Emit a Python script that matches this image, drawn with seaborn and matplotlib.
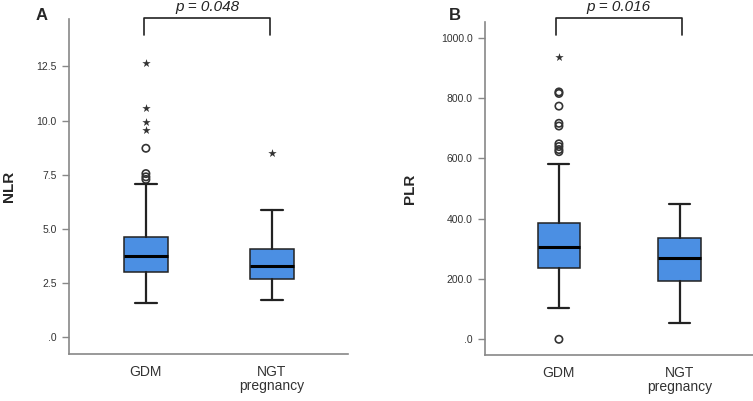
import numpy as np
import matplotlib
matplotlib.use("Agg")
import matplotlib.pyplot as plt
import seaborn as sns

# Group labels
groups = ["GDM", "NGT\npregnancy"]

# NLR box stats: whisker low, Q1, median, Q3, whisker high
nlr_low = [1.59, 1.71]
nlr_q1 = [3.01, 2.67]
nlr_med = [3.76, 3.29]
nlr_q3 = [4.63, 4.06]
nlr_high = [7.08, 5.88]
nlr_out_gdm = [7.28, 7.40, 7.55, 8.72]
nlr_ext_gdm = [9.58, 9.94, 10.57, 12.65]
nlr_out_ngt = []
nlr_ext_ngt = [8.50]

# PLR box stats
plr_low = [103, 55]
plr_q1 = [237, 194]
plr_med = [305, 270]
plr_q3 = [387, 335]
plr_high = [581, 449]
plr_out_gdm = [0, 622, 629, 639, 648, 707, 716, 773, 815, 820]
plr_ext_gdm = [935]
plr_out_ngt = []
plr_ext_ngt = []

sns.set_style("ticks")
plt.rcParams["font.family"] = ["Liberation Sans", "DejaVu Sans"]

box_color = "#4b8fe3"
fig = plt.figure(figsize=(7.53, 4.01), dpi=100)
ax1 = fig.add_axes([0.0916, 0.117, 0.371, 0.836])
ax2 = fig.add_axes([0.6445, 0.114, 0.355, 0.832])


def draw_panel(ax, low, q1, med, q3, high, outs, exts, ylim, ticks, ylabel):
    stats = []
    for i in range(len(groups)):
        stats.append(dict(whislo=low[i], q1=q1[i], med=med[i], q3=q3[i], whishi=high[i], fliers=[]))
    ax.bxp(stats, positions=range(len(groups)), widths=0.35, patch_artist=True,
           showfliers=False,
           boxprops=dict(facecolor=box_color, edgecolor="#222222", linewidth=1.1),
           medianprops=dict(color="black", linewidth=2.2),
           whiskerprops=dict(color="#222222", linewidth=1.6),
           capprops=dict(color="#222222", linewidth=1.6),
           capwidths=0.175)
    for i, (o, e) in enumerate(zip(outs, exts)):
        if len(o):
            sns.scatterplot(x=[i] * len(o), y=o, ax=ax, marker="o", s=28,
                            facecolor="none", edgecolor="#333333", linewidth=1.2, legend=False)
        if len(e):
            sns.scatterplot(x=[i] * len(e), y=e, ax=ax, marker="*", s=40,
                            color="#333333", linewidth=0, legend=False)
    ax.set_xlim(-0.61, 1.605)
    ax.set_ylim(*ylim)
    ax.set_yticks(ticks)
    ax.set_yticklabels([".0" if t == 0 else f"{t:.1f}" for t in ticks], fontsize=7.5, color="#333333")
    ax.set_xticks(range(len(groups)))
    ax.set_xticklabels(groups, fontsize=10, color="#333333", linespacing=1.0)
    ax.tick_params(axis="x", length=0, pad=8)
    ax.tick_params(axis="y", length=5, color="#888888", width=1, pad=4)
    for s in ["left", "bottom"]:
        ax.spines[s].set_color("#888888")
        ax.spines[s].set_linewidth(1.2)
    sns.despine(ax=ax)
    ax.set_ylabel(ylabel, fontsize=11, fontweight="bold")


draw_panel(ax1, nlr_low, nlr_q1, nlr_med, nlr_q3, nlr_high,
           [nlr_out_gdm, nlr_out_ngt], [nlr_ext_gdm, nlr_ext_ngt],
           (-0.79, 14.7), [0, 2.5, 5.0, 7.5, 10.0, 12.5], "NLR")
draw_panel(ax2, plr_low, plr_q1, plr_med, plr_q3, plr_high,
           [plr_out_gdm, plr_out_ngt], [plr_ext_gdm, plr_ext_ngt],
           (-53, 1053), [0, 200, 400, 600, 800, 1000], "PLR")
ax1.yaxis.set_label_coords(-0.19, 0.5)
ax2.yaxis.set_label_coords(-0.255, 0.5)


# significance brackets (figure coords)
def bracket(x0, x1, ptxt):
    y_top = 1 - 18 / 401
    y_bot = 1 - 35 / 401
    fig.add_artist(plt.Line2D([x0, x0, x1, x1], [y_bot, y_top, y_top, y_bot],
                              transform=fig.transFigure, color="#222222", linewidth=1.2))
    fig.text((x0 + x1) / 2, y_top + 0.01, ptxt, ha="center", va="bottom",
             fontsize=11, style="italic", color="#222222")


bracket(144 / 753, 270 / 753, "p = 0.048")
bracket(556 / 753, 681.7 / 753, "p = 0.016")

fig.text(42 / 753, 1 - 15 / 401, "A", ha="center", va="center", fontsize=12, fontweight="bold")
fig.text(455 / 753, 1 - 15 / 401, "B", ha="center", va="center", fontsize=12, fontweight="bold")

fig.savefig("out.png", dpi=100)
